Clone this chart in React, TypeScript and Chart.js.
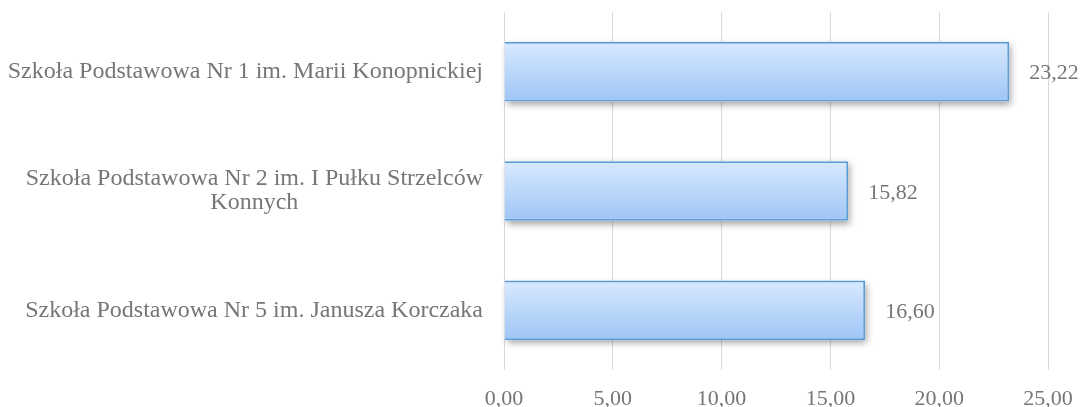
import React, { useEffect, useRef } from "react";
import { Chart, registerables } from "chart.js";

Chart.register(...registerables);

const categories: string[][] = [
  ["Szkoła Podstawowa Nr 1 im. Marii Konopnickiej"],
  ["Szkoła Podstawowa Nr 2 im. I Pułku Strzelców", "Konnych"],
  ["Szkoła Podstawowa Nr 5 im. Janusza Korczaka"],
];
const values: number[] = [23.22, 15.82, 16.6];
const xTicks: number[] = [0, 5, 10, 15, 20, 25];

const FONT = "'Liberation Serif', 'Times New Roman', serif";
const TEXT = "#767676";
const SIZE = 22;
const CAT_SIZE = 24;

const fmt = (v: number) => v.toFixed(2).replace(".", ",");

const catLabelPlugin = {
  id: "catLabels",
  afterDraw(chart: any) {
    const { ctx, scales } = chart;
    const y = scales.y;
    const rightEdge = chart.chartArea.left - 21;
    ctx.save();
    ctx.font = `${CAT_SIZE}px ${FONT}`;
    ctx.fillStyle = TEXT;
    ctx.textBaseline = "middle";
    const lh = 24;
    categories.forEach((lines, i) => {
      const cy = y.getPixelForValue(i);
      const widths = lines.map((l) => ctx.measureText(l).width);
      const maxW = Math.max(...widths);
      const center = rightEdge - maxW / 2;
      ctx.textAlign = "center";
      lines.forEach((l, j) => {
        const ly = cy + (j - (lines.length - 1) / 2) * lh;
        ctx.fillText(l, center, ly);
      });
    });
    ctx.restore();
  },
};

const valueLabelPlugin = {
  id: "valueLabels",
  afterDatasetsDraw(chart: any) {
    const { ctx } = chart;
    const meta = chart.getDatasetMeta(0);
    ctx.save();
    ctx.font = `${SIZE}px ${FONT}`;
    ctx.fillStyle = TEXT;
    ctx.textAlign = "left";
    ctx.textBaseline = "middle";
    meta.data.forEach((bar: any, i: number) => {
      ctx.fillText(fmt(values[i]), bar.x + 20, bar.y + 2);
    });
    ctx.restore();
  },
};

const shadowPlugin = {
  id: "barShadow",
  beforeDatasetsDraw(chart: any) {
    const ctx = chart.ctx;
    const meta = chart.getDatasetMeta(0);
    ctx.save();
    ctx.shadowColor = "rgba(0,0,0,0.38)";
    ctx.shadowBlur = 7;
    ctx.shadowOffsetX = 2;
    ctx.shadowOffsetY = 3;
    ctx.fillStyle = "#ffffff";
    meta.data.forEach((bar: any) => {
      const p = bar.getProps(["x", "y", "base", "height"], true);
      const left = Math.min(p.base, p.x);
      const w = Math.abs(p.x - p.base);
      ctx.fillRect(left, p.y - p.height / 2, w, p.height);
    });
    ctx.restore();
  },
};

export default function App() {
  const ref = useRef<HTMLCanvasElement>(null);
  useEffect(() => {
    document.documentElement.style.overflow = "hidden";
    const canvas = ref.current!;
    const ctx = canvas.getContext("2d")!;
    const chart = new Chart(ctx, {
      type: "bar",
      data: {
        labels: categories.map((c) => c.join(" ")),
        datasets: [
          {
            data: values,
            backgroundColor: (c: any) => {
              const ch = c.chart;
              const ys = ch.scales && ch.scales.y;
              if (!ch.chartArea || !ys) return "#bcd8fb";
              const cy = ys.getPixelForValue(c.dataIndex);
              const h = (ys.height / categories.length) * 0.5;
              if (!isFinite(cy) || !isFinite(h)) return "#bcd8fb";
              const g = ch.ctx.createLinearGradient(0, cy - h / 2, 0, cy + h / 2);
              g.addColorStop(0, "#d8e9fe");
              g.addColorStop(1, "#9ec5f6");
              return g;
            },
            borderColor: "#5b9bd5",
            borderWidth: 2,
            borderSkipped: "start",
            barPercentage: 0.5,
            categoryPercentage: 1,
          },
        ],
      },
      options: {
        indexAxis: "y",
        animation: false,
        responsive: true,
        maintainAspectRatio: false,
        layout: { padding: { top: 12, right: 33, left: 0, bottom: 0 } },
        plugins: { legend: { display: false }, tooltip: { enabled: false } },
        scales: {
          x: {
            min: 0,
            max: 25,
            afterBuildTicks: (s: any) => {
              s.ticks = xTicks.map((v) => ({ value: v }));
            },
            afterFit: (s: any) => {
              s.height = 46;
            },
            grid: {
              color: "#d9d9d9",
              lineWidth: 1,
              drawTicks: true,
              tickLength: 12.5,
              tickColor: "rgba(0,0,0,0)",
            },
            border: { display: false },
            ticks: {
              color: TEXT,
              font: { family: FONT, size: SIZE },
              padding: 4,
              callback: (v: any) => fmt(Number(v)),
              maxRotation: 0,
            },
          },
          y: {
            grid: { display: false },
            border: { display: false },
            ticks: { display: false },
            afterFit: (s: any) => {
              s.width = 504;
            },
          },
        },
      },
      plugins: [shadowPlugin, valueLabelPlugin, catLabelPlugin],
    });
    return () => chart.destroy();
  }, []);
  return (
    <div style={{ position: "absolute", left: 0, top: 0, width: 1081, height: 416 }}>
      <canvas ref={ref} />
    </div>
  );
}
